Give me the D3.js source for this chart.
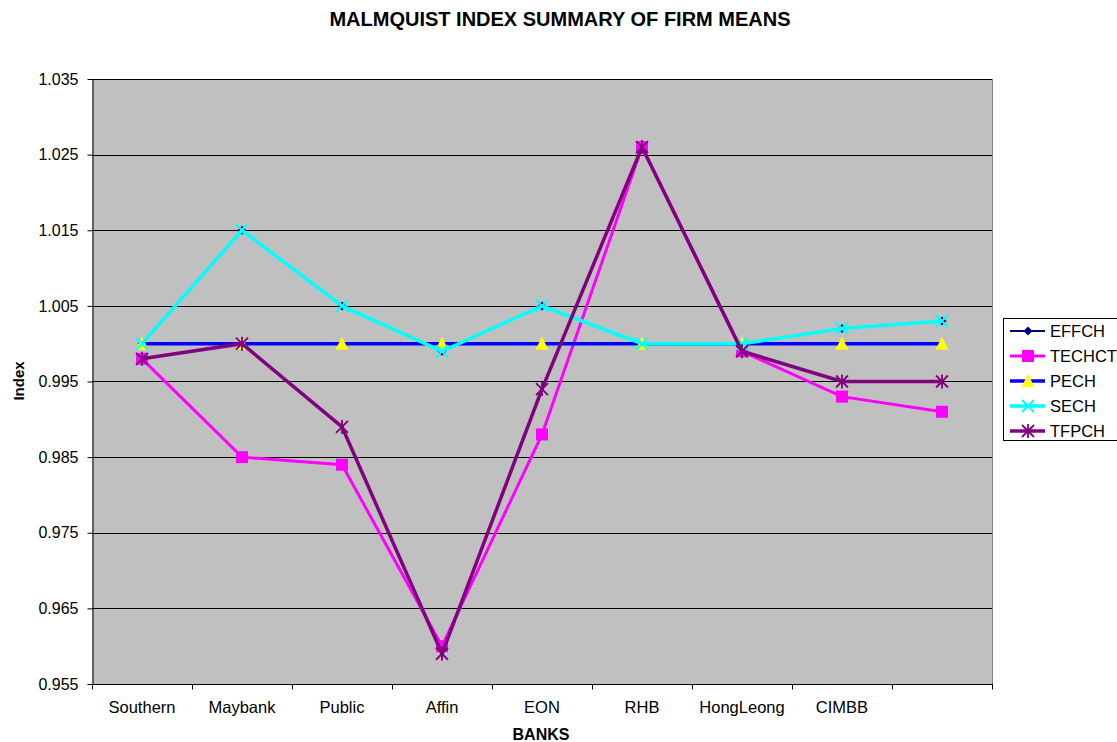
<!DOCTYPE html>
<html><head><meta charset="utf-8">
<script src="https://cdn.jsdelivr.net/npm/d3@7"></script>
<style>body{margin:0;background:#fff}svg{display:block;font-family:"Liberation Sans",Arial,sans-serif}</style>
</head><body><svg id="c" width="1117" height="742"></svg>
<script>
const categories = ["Southern","Maybank","Public","Affin","EON","RHB","HongLeong","CIMBB",""];
const effch  = [1.000,1.015,1.005,0.999,1.005,1.000,1.000,1.002,1.003];
const techct = [0.998,0.985,0.984,0.960,0.988,1.026,0.999,0.993,0.991];
const pech   = [1.000,1.000,1.000,1.000,1.000,1.000,1.000,1.000,1.000];
const sech   = [1.000,1.015,1.005,0.999,1.005,1.000,1.000,1.002,1.003];
const tfpch  = [0.998,1.000,0.989,0.959,0.994,1.026,0.999,0.995,0.995];
const yTicks = [0.955,0.965,0.975,0.985,0.995,1.005,1.015,1.025,1.035];

const series = [
  {name:"EFFCH", values:effch, color:"#000080", width:2, marker:"diamond"},
  {name:"TECHCT", values:techct, color:"#FF00FF", width:3, marker:"square"},
  {name:"PECH", values:pech, color:"#0000FF", width:3.5, marker:"triangle"},
  {name:"SECH", values:sech, color:"#00FFFF", width:3.5, marker:"x"},
  {name:"TFPCH", values:tfpch, color:"#800080", width:3.5, marker:"star"}
];

const svg = d3.select("#c");
const L=92, R=992, T=79, B=684;
const x = d3.scaleBand().domain(d3.range(categories.length)).range([L,R]);
const y = d3.scaleLinear().domain([0.955,1.035]).range([B,T]);

svg.append("rect").attr("x",L).attr("y",T).attr("width",R-L).attr("height",B-T).attr("fill","#C0C0C0");
svg.append("g").selectAll("line").data(yTicks.slice(1)).join("line")
  .attr("x1",L).attr("x2",R).attr("y1",d=>Math.round(y(d))+0.5).attr("y2",d=>Math.round(y(d))+0.5)
  .attr("stroke","#000").attr("stroke-width",1);
svg.append("line").attr("x1",R+0.5).attr("x2",R+0.5).attr("y1",T).attr("y2",B).attr("stroke","#808080");

const yAxis = d3.axisLeft(y).tickValues(yTicks).tickFormat(d3.format(".3f")).tickSize(5).tickPadding(9).tickSizeOuter(0);
const gy = svg.append("g").attr("transform",`translate(${L+0.5},0)`).call(yAxis);
gy.select(".domain").attr("stroke","#000");
gy.selectAll("text").attr("font-size",16).attr("fill","#000").attr("font-family","'Liberation Sans',Arial,sans-serif");
gy.selectAll("line").attr("stroke","#000");

const gx = svg.append("g").attr("transform",`translate(0,${B+0.5})`);
gx.append("line").attr("x1",L).attr("x2",R+1).attr("stroke","#000");
const bounds = d3.range(categories.length+1).map(i=>L + i*x.bandwidth());
gx.selectAll("line.t").data(bounds).join("line").attr("class","t")
  .attr("x1",d=>Math.round(d)+0.5).attr("x2",d=>Math.round(d)+0.5).attr("y1",0).attr("y2",5).attr("stroke","#000");
gx.selectAll("text").data(categories).join("text")
  .attr("x",(d,i)=>x(i)+x.bandwidth()/2).attr("y",28).attr("text-anchor","middle")
  .attr("font-size",16.5).text(d=>d);

const line = d3.line().x((d,i)=>x(i)+x.bandwidth()/2).y(d=>y(d));
function marker(g, type, cx, cy){
  if(type==="diamond") g.append("path").attr("d",`M${cx},${cy-4.5}L${cx+4.5},${cy}L${cx},${cy+4.5}L${cx-4.5},${cy}Z`).attr("fill","#000080");
  else if(type==="square") g.append("rect").attr("x",cx-6).attr("y",cy-6).attr("width",12).attr("height",12).attr("fill","#FF00FF");
  else if(type==="triangle") g.append("path").attr("d",`M${cx},${cy-7}L${cx+6.5},${cy+6}L${cx-6.5},${cy+6}Z`).attr("fill","#FFFF00");
  else if(type==="x") g.append("path").attr("d",`M${cx-6},${cy-6}L${cx+6},${cy+6}M${cx+6},${cy-6}L${cx-6},${cy+6}`).attr("stroke","#00FFFF").attr("stroke-width",2);
  else if(type==="star") g.append("path").attr("d",`M${cx-6},${cy-6}L${cx+6},${cy+6}M${cx+6},${cy-6}L${cx-6},${cy+6}M${cx},${cy-7}L${cx},${cy+7}`).attr("stroke","#800080").attr("stroke-width",1.8);
}
series.forEach(s=>{
  const g = svg.append("g");
  g.append("path").attr("d",line(s.values)).attr("fill","none").attr("stroke",s.color).attr("stroke-width",s.width);
  s.values.forEach((v,i)=>marker(g,s.marker,x(i)+x.bandwidth()/2,y(v)));
});

svg.append("text").attr("x",560).attr("y",26).attr("text-anchor","middle").attr("font-weight","bold").attr("font-size",20).text("MALMQUIST INDEX SUMMARY OF FIRM MEANS");
svg.append("text").attr("transform","translate(24,381) rotate(-90)").attr("text-anchor","middle").attr("font-weight","bold").attr("font-size",15).text("Index");
svg.append("text").attr("x",541).attr("y",740).attr("text-anchor","middle").attr("font-weight","bold").attr("font-size",16).text("BANKS");

const lg = svg.append("g");
lg.append("rect").attr("x",1003.5).attr("y",318.5).attr("width",130).attr("height",122).attr("fill","#fff").attr("stroke","#000");
series.forEach((s,i)=>{
  const yy = 331 + i*25;
  lg.append("line").attr("x1",1010).attr("x2",1045).attr("y1",yy).attr("y2",yy).attr("stroke",s.color).attr("stroke-width",s.width);
  marker(lg,s.marker,1028,yy);
  lg.append("text").attr("x",1050).attr("y",yy+6).attr("font-size",16.5).text(s.name);
});
</script></body></html>
